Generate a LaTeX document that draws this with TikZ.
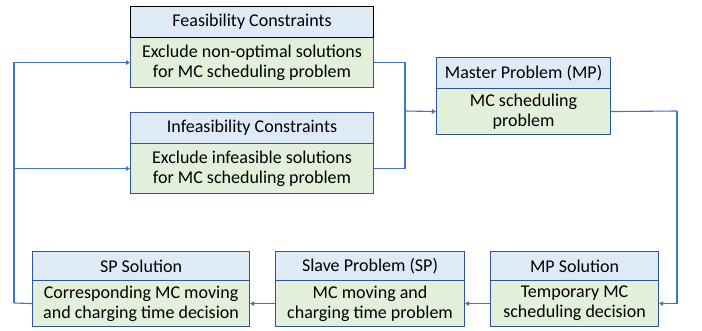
\documentclass[tikz,border=0pt]{standalone}
\usepackage{fontspec}
\setmainfont{Carlito}
\usetikzlibrary{arrows.meta}
\definecolor{hdrfill}{HTML}{DEEBF7}
\definecolor{bodyfill}{HTML}{E2EFDA}
\definecolor{boxline}{HTML}{2F5597}
\definecolor{conn}{HTML}{4472C4}
\tikzset{
  hdr/.style={draw=boxline, fill=hdrfill, line width=1.1pt, anchor=north west, inner sep=0pt,
    font=\fontsize{18}{20}\selectfont, align=center},
  bdy/.style={draw=boxline, fill=bodyfill, line width=1.1pt, anchor=north west, inner sep=0pt,
    font=\fontsize{18}{20}\selectfont, align=center},
  conline/.style={draw=conn, line width=1.1pt},
  arr/.style={conline, -{Triangle[length=4pt,width=4.5pt]}},
}
\begin{document}
\begin{tikzpicture}[x=1pt,y=-1pt]
\useasboundingbox (0,0) rectangle (702,331);
% Feasibility
\node[bdy, minimum width=243pt, minimum height=50pt] (feasB) at (130,37) {Exclude non-optimal solutions\\for MC scheduling problem};
\node[hdr, draw=black, minimum width=243pt, minimum height=31pt] (feasH) at (130,6) {Feasibility Constraints};
% Infeasibility
\node[bdy, minimum width=243pt, minimum height=50pt] (infB) at (130,143) {Exclude infeasible solutions\\for MC scheduling problem};
\node[hdr, minimum width=243pt, minimum height=31pt] (infH) at (130,112) {Infeasibility Constraints};
% Master
\node[bdy, minimum width=174pt, minimum height=46pt] (mastB) at (436,88) {MC scheduling\\problem};
\node[hdr, minimum width=174pt, minimum height=31pt] (mastH) at (436,57) {Master Problem (MP)};
% SP Solution
\node[bdy, minimum width=217pt, minimum height=46pt] (spB) at (32,280) {Corresponding MC moving\\and charging time decision};
\node[hdr, minimum width=217pt, minimum height=29pt] (spH) at (32,251) {SP Solution};
% Slave
\node[bdy, minimum width=189pt, minimum height=46pt] (slB) at (275,280) {MC moving and\\charging time problem};
\node[hdr, minimum width=189pt, minimum height=29pt] (slH) at (275,251) {Slave Problem (SP)};
% MP Solution
\node[bdy, minimum width=168pt, minimum height=46pt] (mpB) at (490,280) {Temporary MC\\scheduling decision};
\node[hdr, minimum width=168pt, minimum height=29pt] (mpH) at (490,251) {MP Solution};
% connectors
\coordinate (R) at (677,111);
\coordinate (L) at (14,303);
\coordinate (M) at (405,111);
\draw[conline] (mastB.east) -- (R);
\draw[arr] (R) |- (mpB.east);
\draw[arr] (mpB.west) -- (slB.east);
\draw[arr] (slB.west) -- (spB.east);
\draw[conline] (spB.west) -- (L);
\draw[arr] (L) |- (feasB.west);
\draw[arr] (L) |- (infB.west);
\draw[conline] (feasB.east) -| (M);
\draw[conline] (infB.east) -| (M);
\draw[arr] (M) -- (mastB.west);
\end{tikzpicture}
\end{document}
